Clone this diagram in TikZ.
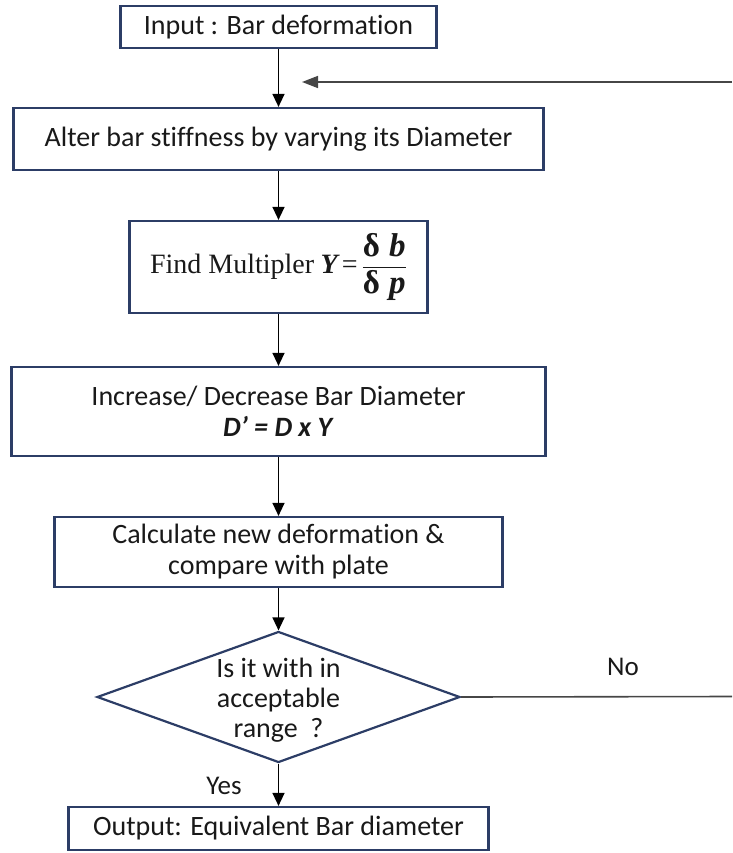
\documentclass[tikz,border=0pt]{standalone}
\usepackage{amsmath}
\usepackage{fontspec}
\setmainfont[Ligatures=NoCommon]{Carlito}
\newfontfamily\serifrm{Liberation Serif}
\usetikzlibrary{shapes.geometric,arrows.meta}
\definecolor{boxblue}{RGB}{44,61,102}
\definecolor{txt}{RGB}{25,25,25}
\definecolor{fbgray}{RGB}{70,70,70}
\newcommand{\bsr}[1]{\mbox{\serifrm\bfseries #1}}
\newcommand{\bfr}[1]{\mbox{\fontsize{33}{33}\selectfont\serifrm\bfseries #1}}
\begin{document}
\begin{tikzpicture}[x=1pt,y=-1pt,
  box/.style={draw=boxblue, line width=2.2pt, fill=white, inner sep=0pt, align=center,
    font=\fontsize{28}{31}\selectfont, text=txt},
  dia/.style={draw=boxblue, line width=2.2pt, diamond, inner sep=0pt},
  conn/.style={line width=1.4pt, draw=black, -{Triangle[length=13pt,width=12pt]}},
  fb/.style={line width=1.6pt, draw=fbgray},
  lbl/.style={font=\fontsize{27}{30}\selectfont, text=txt, inner sep=0pt}]
\useasboundingbox (0,0) rectangle (732,853);

\node[box, minimum width=316pt, minimum height=42pt] (b1) at (278.5,27) {Input : Bar deformation};
\node[box, minimum width=530pt, minimum height=62pt] (b2) at (278.5,139) {Alter bar stiffness by varying its Diameter};
\node[box, minimum width=298pt, minimum height=92pt] (b3) at (278.5,267)
  {{\serifrm Find Multipler} $\bsr{\itshape Y}\mkern3mu\mbox{\serifrm =}\mkern3mu\dfrac{\bfr{δ\;\itshape b}}{\bfr{δ\;\itshape p}}$};
\node[box, minimum width=534pt, minimum height=89pt] (b4) at (278.5,411.5)
  {Increase/ Decrease Bar Diameter\\ \textbf{\textit{D’ = D x Y}}};
\node[box, minimum width=448pt, minimum height=70pt] (b5) at (278.5,552)
  {Calculate new deformation \&\\compare with plate};
\node[dia, minimum width=363pt, minimum height=131pt] (d) at (278.5,697) {};
\node[align=center, font=\fontsize{28}{30}\selectfont, text=txt, inner sep=0pt] (dt) at (278.5,700)
  {Is it with in\\acceptable\\range~ ?};
\node[box, minimum width=420pt, minimum height=43pt] (b6) at (278.5,828.5) {Output: Equivalent Bar diameter};

\draw[conn] (b1.south) -- (b2.north);
\draw[conn] (b2.south) -- (b3.north);
\draw[conn] (b3.south) -- (b4.north);
\draw[conn] (b4.south) -- (b5.north);
\draw[conn] (b5.south) -- (d.north);
\draw[conn] (d.south) -- (b6.north);

\coordinate (r1) at (732,82);
\coordinate (r2) at (732,696.5);
\coordinate (fbin) at (302,82);
\draw[fb] (d.east) -- (r2);
\draw[fb, -{Triangle[length=16pt,width=12pt]}] (r1) -- (fbin);

\node[lbl] (no) at (623,667) {No};
\node[lbl] (yes) at (224,786) {Yes};
\end{tikzpicture}
\end{document}
